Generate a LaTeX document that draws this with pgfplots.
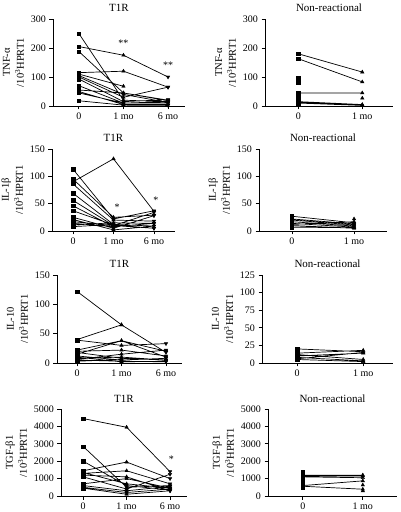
\documentclass[border=0pt]{standalone}
\usepackage{fontspec}
\setmainfont{Liberation Serif}
\usepackage{pgfplots}
\pgfplotsset{compat=1.18}
\usepackage{pgfplotstable}

\pgfdeclareplotmark{dtri}{%
  \pgfpathmoveto{\pgfqpoint{0pt}{-\pgfplotmarksize}}%
  \pgfpathlineto{\pgfqpointpolar{30}{\pgfplotmarksize}}%
  \pgfpathlineto{\pgfqpointpolar{150}{\pgfplotmarksize}}%
  \pgfpathclose\pgfusepathqfillstroke}

% ---------- TNF-alpha, T1R ----------
\pgfplotstableread{
x y
0 250
1 20
2 15
nan nan
0 205
1 175
2 100
nan nan
0 188
1 45
2 20
nan nan
0 115
1 120
2 65
nan nan
0 110
1 68
nan nan
0 105
1 40
2 12
nan nan
0 100
1 30
2 65
nan nan
0 93
1 15
2 22
nan nan
0 70
1 10
2 10
nan nan
0 55
1 45
2 18
nan nan
0 50
1 5
2 5
nan nan
0 45
1 10
2 15
nan nan
0 18
1 3
2 2
}\tnfT
% ---------- TNF-alpha, non-reactional ----------
\pgfplotstableread{
x y
0 180
1 117
nan nan
0 163
1 83
nan nan
0 45
1 45
nan nan
0 15
1 5
nan nan
0 13
1 3
nan nan
0 10
1 2
nan nan
0 97
nan nan
0 90
nan nan
0 80
nan nan
0 30
nan nan
0 20
nan nan
1 27
}\tnfN
% ---------- IL-1beta, T1R ----------
\pgfplotstableread{
x y
0 113
1 22
2 37
nan nan
0 90
1 132
2 36
nan nan
0 95
1 25
2 29
nan nan
0 86
1 20
2 18
nan nan
0 69
1 12
2 9
nan nan
0 56
1 10
2 34
nan nan
0 46
1 8
2 14
nan nan
0 37
1 11
2 5
nan nan
0 25
1 5
2 28
nan nan
0 21
1 2
2 9
nan nan
0 17
1 10
2 5
nan nan
0 14
1 8
nan nan
0 11
1 15
2 14
nan nan
0 8
1 12
}\ilbT
% ---------- IL-1beta, non-reactional ----------
\pgfplotstableread{
x y
0 27
1 15
nan nan
0 22
1 13
nan nan
0 20
1 11
nan nan
0 17
1 9
nan nan
0 14
1 7
nan nan
0 12
1 17
nan nan
0 10
1 5
nan nan
0 7
1 6
nan nan
1 22
}\ilbN
% ---------- IL-10, T1R ----------
\pgfplotstableread{
x y
0 122
1 65
2 18
nan nan
0 40
1 65
nan nan
0 39
1 30
2 33
nan nan
0 22
1 38
2 20
nan nan
0 20
1 22
2 12
nan nan
0 18
1 8
2 5
nan nan
0 15
1 38
2 10
nan nan
0 12
1 5
2 8
nan nan
0 10
1 2
2 3
nan nan
0 8
1 10
2 5
nan nan
0 6
1 15
2 22
nan nan
0 5
1 3
2 2
nan nan
0 3
1 6
}\iltT
% ---------- IL-10, non-reactional ----------
\pgfplotstableread{
x y
0 20
1 16
nan nan
0 14
1 18
nan nan
0 12
1 5
nan nan
0 10
1 14
nan nan
0 8
1 3
nan nan
0 6
1 15
nan nan
0 5
1 2
}\iltN
% ---------- TGF-beta1, T1R ----------
\pgfplotstableread{
x y
0 4450
1 3950
2 1400
nan nan
0 2850
1 500
2 600
nan nan
0 2000
1 600
2 350
nan nan
0 1450
1 1950
2 1000
nan nan
0 1300
1 1450
2 700
nan nan
0 1200
1 1100
2 300
nan nan
0 1100
1 400
2 1250
nan nan
0 1350
1 700
2 450
nan nan
0 700
1 1000
2 450
nan nan
0 600
1 300
2 550
nan nan
0 500
1 200
2 400
nan nan
0 450
1 100
2 300
}\tgfT
% ---------- TGF-beta1, non-reactional ----------
\pgfplotstableread{
x y
0 1200
1 1200
nan nan
0 1150
1 1150
nan nan
0 1100
1 1050
nan nan
0 600
1 870
nan nan
0 560
1 390
nan nan
0 1400
nan nan
0 1000
nan nan
0 800
nan nan
0 470
nan nan
1 630
nan nan
1 290
}\tgfN

\pgfplotsset{
  gp/.style={scale only axis, axis lines*=left,
    axis line style={line width=0.8pt},
    every tick/.style={black, line width=0.8pt},
    tick align=outside, major tick length=3.5pt,
    ymin=0, anchor=south west, clip=false,
    ticklabel style={font=\fontsize{10}{12}\selectfont},
    /pgf/number format/assume math mode=true,
    /pgf/number format/1000 sep={},
    scaled y ticks=false,
    every axis title shift=0pt,
    title style={font=\fontsize{11}{13}\selectfont, at={(0.5,1)}, anchor=base, yshift=7pt},
    ylabel style={align=center, font=\fontsize{10.5}{14}\selectfont},
    unbounded coords=jump},
  gpL/.style={gp, xtick={0,1,2}, xticklabels={0,1 mo,6 mo}, title={T1R}},
  gpR/.style={gp, xtick={0,1}, xticklabels={0,1 mo}, title={Non-reactional}},
}

\newcommand\pts[1]{%
  \addplot[black, line width=0.7pt, no marks] table{#1};
  \addplot[black, only marks, mark=square*, mark size=1.7pt, mark options={fill=black}, restrict x to domain=-0.5:0.5] table{#1};
  \addplot[black, only marks, mark=triangle*, mark size=2pt, mark options={fill=black}, restrict x to domain=0.5:1.5] table{#1};
  \addplot[black, only marks, mark=dtri, mark size=2pt, mark options={fill=black}, restrict x to domain=1.5:2.5] table{#1};
}

\begin{document}
\begin{tikzpicture}
\useasboundingbox (0,0) rectangle (400pt,512pt);

% Row 1
\begin{axis}[gpL, at={(53pt,406pt)}, width=132pt, height=87pt,
  xmin=-0.58, xmax=2.38, ymax=300, ytick={0,100,200,300},
  ylabel={TNF-α\\/10\textsuperscript{3}HPRT1}]
\pts{\tnfT}
\node[font=\fontsize{10}{12}\selectfont] at (axis cs:1,215) {**};
\node[font=\fontsize{10}{12}\selectfont] at (axis cs:2,142) {**};
\end{axis}
\begin{axis}[gpR, at={(265pt,406pt)}, width=128pt, height=87pt,
  xmin=-0.52, xmax=1.48, ymax=300, ytick={0,100,200,300},
  ylabel={TNF-α\\/10\textsuperscript{3}HPRT1}]
\pts{\tnfN}
\end{axis}

% Row 2
\begin{axis}[gpL, at={(52pt,281pt)}, width=123pt, height=82pt,
  xmin=-0.52, xmax=2.52, ymax=150, ytick={0,50,100,150},
  ylabel={IL-1β\\/10\textsuperscript{3}HPRT1}]
\pts{\ilbT}
\node[font=\fontsize{10}{12}\selectfont] at (axis cs:1.09,44) {*};
\node[font=\fontsize{10}{12}\selectfont] at (axis cs:2.05,56) {*};
\end{axis}
\begin{axis}[gpR, at={(259pt,281pt)}, width=128pt, height=82pt,
  xmin=-0.53, xmax=1.53, ymax=150, ytick={0,50,100,150},
  ylabel={IL-1β\\/10\textsuperscript{3}HPRT1}]
\pts{\ilbN}
\end{axis}

% Row 3
\begin{axis}[gpL, at={(57pt,149pt)}, width=125pt, height=88pt,
  xmin=-0.45, xmax=2.36, ymax=150, ytick={0,50,100,150},
  ylabel={IL-10\\/10\textsuperscript{3}HPRT1}]
\pts{\iltT}
\end{axis}
\begin{axis}[gpR, at={(262pt,149pt)}, width=131pt, height=88pt,
  xmin=-0.53, xmax=1.45, ymax=125, ytick={0,25,50,75,100,125},
  ylabel={IL-10\\/10\textsuperscript{3}HPRT1}]
\pts{\iltN}
\end{axis}

% Row 4
\begin{axis}[gpL, at={(61pt,16pt)}, width=126pt, height=87pt,
  xmin=-0.51, xmax=2.39, ymax=5000, ytick={0,1000,2000,3000,4000,5000},
  ylabel={TGF-β1\\/10\textsuperscript{3}HPRT1}]
\pts{\tgfT}
\node[font=\fontsize{10}{12}\selectfont] at (axis cs:2.03,2100) {*};
\end{axis}
\begin{axis}[gpR, at={(268pt,16pt)}, width=129pt, height=87pt,
  xmin=-0.58, xmax=1.57, ymax=5000, ytick={0,1000,2000,3000,4000,5000},
  ylabel={TGF-β1\\/10\textsuperscript{3}HPRT1}]
\pts{\tgfN}
\end{axis}
\end{tikzpicture}
\end{document}
